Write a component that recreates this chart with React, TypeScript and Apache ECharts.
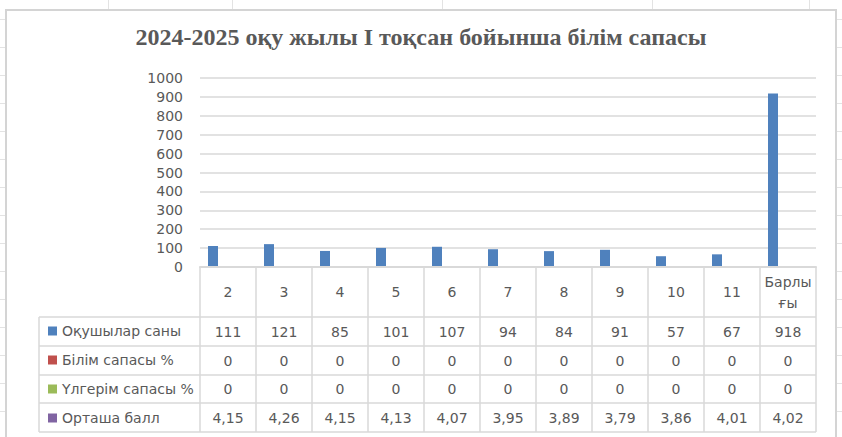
import React, { useEffect, useRef } from "react";
import * as echarts from "echarts";

const title = "2024-2025 оқу жылы І тоқсан бойынша білім сапасы";
const classes = ["2", "3", "4", "5", "6", "7", "8", "9", "10", "11", "Барлы\nғы"];
const seriesNames = ["Оқушылар саны", "Білім сапасы %", "Үлгерім сапасы %", "Орташа балл"];
const students = [111, 121, 85, 101, 107, 94, 84, 91, 57, 67, 918];
const knowledge = [0, 0, 0, 0, 0, 0, 0, 0, 0, 0, 0];
const progress = [0, 0, 0, 0, 0, 0, 0, 0, 0, 0, 0];
const average = [4.15, 4.26, 4.15, 4.13, 4.07, 3.95, 3.89, 3.79, 3.86, 4.01, 4.02];
const yTicks = [0, 100, 200, 300, 400, 500, 600, 700, 800, 900, 1000];

const colors = ["#4F81BD", "#C0504D", "#9BBB59", "#8064A2"];
const FONT = "DejaVu Sans";
const TEXT = "#595959";
const BORDER = "#d9d9d9";

// layout (px)
const W = 842;
const H = 437;
const GRID_LEFT = 200;
const GRID_RIGHT = 816;
const AXIS_Y = 267;
const TOP_Y = 78;
const TABLE_LEFT = 39;
const rowLines = [317, 346, 375, 403, 432];

const App: React.FC = () => {
  const chartRef = useRef<HTMLDivElement>(null);

  useEffect(() => {
    if (!chartRef.current) return;
    const myChart = echarts.init(chartRef.current, null, { renderer: "svg" });

    const rows = [students, knowledge, progress, average];
    const fmt = (i: number, v: number) =>
      i === 3 ? v.toFixed(2).replace(".", ",") : String(v);

    const rowAxes = rows.map((vals, i) => ({
      type: "category" as const,
      gridIndex: 0,
      position: "bottom" as const,
      offset: (rowLines[i] + rowLines[i + 1]) / 2 - AXIS_Y,
      data: vals.map((v) => fmt(i, v)),
      axisLine: { show: false },
      axisTick: { show: false },
      axisLabel: {
        margin: 0,
        verticalAlign: "middle" as const,
        color: TEXT,
        fontFamily: FONT,
        fontSize: 14,
        interval: 0,
      },
    }));

    // spreadsheet backdrop
    const sheet: any[] = [];
    for (let y = 19.5; y < H; y += 28) {
      sheet.push({ type: "line", z: -20, shape: { x1: 0, y1: y, x2: 6, y2: y }, style: { stroke: "#e3e3e3", lineWidth: 1 } });
      sheet.push({ type: "line", z: -20, shape: { x1: 836, y1: y, x2: W, y2: y }, style: { stroke: "#e3e3e3", lineWidth: 1 } });
    }
    [108.5, 232.5, 442.5, 652.5, 809.5].forEach((x) =>
      sheet.push({ type: "line", z: -20, shape: { x1: x, y1: 0, x2: x, y2: 10 }, style: { stroke: "#e3e3e3", lineWidth: 1 } })
    );

    const tableLines: any[] = rowLines.map((y) => ({
      type: "line",
      z: -5,
      shape: { x1: TABLE_LEFT, y1: y, x2: GRID_RIGHT, y2: y },
      style: { stroke: BORDER, lineWidth: 1.5 },
    }));
    tableLines.push({
      type: "line",
      z: -5,
      shape: { x1: TABLE_LEFT, y1: rowLines[0], x2: TABLE_LEFT, y2: rowLines[rowLines.length - 1] },
      style: { stroke: BORDER, lineWidth: 1.5 },
    });

    const option: echarts.EChartsOption = {
      animation: false,
      backgroundColor: "#ffffff",
      title: {
        text: title,
        left: "center",
        top: 25,
        padding: 0,
        textStyle: {
          fontFamily: "Liberation Serif",
          fontWeight: "bold",
          fontSize: 24,
          color: TEXT,
        },
      },
      legend: {
        data: seriesNames,
        orient: "vertical",
        left: 48,
        top: 321,
        padding: 0,
        itemGap: 9,
        itemWidth: 9,
        itemHeight: 9,
        icon: "rect",
        selectedMode: false,
        textStyle: { color: TEXT, fontFamily: FONT, fontSize: 14, lineHeight: 20 },
      },
      grid: {
        left: GRID_LEFT,
        right: W - GRID_RIGHT,
        top: TOP_Y,
        bottom: H - AXIS_Y,
      },
      graphic: [
        ...sheet,
        {
          type: "rect",
          z: -10,
          shape: { x: 6, y: 10, width: 830, height: H },
          style: { fill: "#ffffff", stroke: "#d4d4d4", lineWidth: 2 },
        },
        ...tableLines,
      ],
      xAxis: [
        {
          type: "category",
          data: classes,
          z: 5,
          axisLine: { lineStyle: { color: BORDER, width: 2 } },
          axisTick: {
            show: true,
            length: rowLines[rowLines.length - 1] - AXIS_Y,
            lineStyle: { color: BORDER, width: 1.5 },
          },
          axisLabel: {
            margin: 25,
            verticalAlign: "middle",
            color: TEXT,
            fontFamily: FONT,
            fontSize: 14,
            lineHeight: 21,
            interval: 0,
          },
        },
        ...rowAxes,
      ],
      yAxis: {
        type: "value",
        min: 0,
        max: 1000,
        interval: 100,
        axisLine: { show: false },
        axisTick: { show: false },
        splitLine: { lineStyle: { color: BORDER, width: 1.5 } },
        axisLabel: {
          margin: 17,
          color: TEXT,
          fontFamily: FONT,
          fontSize: 14,
          customValues: yTicks,
          formatter: (v: number) => String(v),
        },
      },
      series: rows.map((vals, i) => ({
        name: seriesNames[i],
        type: "bar" as const,
        data: vals,
        barWidth: 10,
        barGap: "0%",
        itemStyle: { color: colors[i] },
      })),
    };

    myChart.setOption(option);
    return () => {
      myChart.dispose();
    };
  }, []);

  return (
    <div
      ref={chartRef}
      style={{ position: "absolute", left: 0, top: 0, width: W, height: H }}
    />
  );
};

export default App;
